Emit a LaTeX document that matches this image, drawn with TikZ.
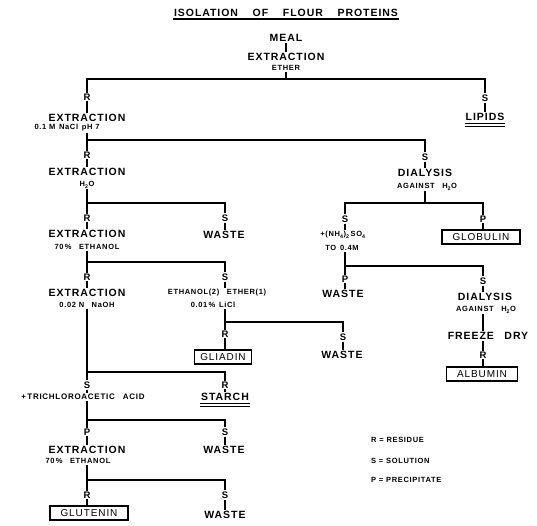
\documentclass[tikz,border=0pt]{standalone}
\usepackage{fontspec}
\setmainfont{Liberation Sans}
\newfontfamily\lettfont[LetterSpace=9]{Liberation Sans}
\tikzset{
  % Step text (extraction, waste ...)
  lbl/.style={inner sep=1pt,font=\lettfont\bfseries\fontsize{10.5}{12}\selectfont},
  % Reagent / condition text
  slbl/.style={inner sep=1pt,font=\lettfont\bfseries\fontsize{7.5}{9}\selectfont},
  % Residue / solution / precipitate letters
  jlbl/.style={inner sep=1pt,font=\lettfont\bfseries\fontsize{9.5}{11}\selectfont},
  % Boxed product
  pbox/.style={rectangle,draw,line width=1.4pt,inner sep=1pt,
    minimum height=14pt,font=\lettfont\fontsize{10}{12}\selectfont},
  % Connectors
  conn/.style={line width=1.4pt},
}
\begin{document}
\begin{tikzpicture}[x=1pt,y=-1pt]
  \useasboundingbox (0,0) rectangle (537,526);

  % Title
  \node[lbl] (title) at (286,13)
    {ISOLATION\hspace{1.4em}OF\hspace{1.4em}FLOUR\hspace{1.4em}PROTEINS};
  \draw[conn] ([yshift=-1pt]title.south west) -- ([yshift=-1pt]title.south east);

  % Meal, ether extraction
  \node[lbl] (meal) at (286,38) {MEAL};
  \node[lbl] (ext0) at (286,57) {EXTRACTION};
  \node[slbl] (ether) at (286,68) {ETHER};
  \coordinate (b0) at (286,79);
  \node[jlbl] (r1) at (87,97) {R};
  \node[jlbl] (s1) at (485,98) {S};
  \node[lbl] (lipids) at (485,117) {LIPIDS};

  % NaCl extraction
  \node[lbl] (ext1) at (87,118) {EXTRACTION};
  \node[slbl] (nacl) at (67,128) {0.1 M\enspace NaCl\enspace pH 7};
  \coordinate (b1) at (87,140);
  \node[jlbl] (r2) at (87,155) {R};
  \node[jlbl] (s2) at (425,157) {S};
  \node[lbl] (dial1) at (425,173) {DIALYSIS};
  \node[slbl] (agn1) at (427,187) {AGAINST\quad H\textsubscript{2}O};
  \coordinate (b5) at (425,203);

  % Water extraction
  \node[lbl] (ext2) at (87,172) {EXTRACTION};
  \node[slbl] (h2oA) at (87,185) {H\textsubscript{2}O};
  \coordinate (b2) at (87,203);
  \node[jlbl] (r3) at (87,218) {R};
  \node[jlbl] (s3) at (225,218) {S};
  \node[lbl] (waste1) at (224,235) {WASTE};

  % Globulin / albumin branch
  \node[jlbl] (s6) at (345,219) {S};
  \node[jlbl] (p1) at (483,219) {P};
  \node[pbox,minimum width=78pt] (globulin) at (481,237) {GLOBULIN};
  \node[slbl] (nh4) at (343,235) {+(NH\textsubscript{4})\textsubscript{2}\,SO\textsubscript{4}};
  \node[slbl] (to04) at (342,248) {TO\enspace 0.4M};
  \coordinate (b6) at (345,266);
  \node[jlbl] (p2) at (345,279) {P};
  \node[jlbl] (s7) at (483,281) {S};
  \node[lbl] (waste3) at (343,294) {WASTE};
  \node[lbl] (dial2) at (485,297) {DIALYSIS};
  \node[slbl] (agn2) at (486,310) {AGAINST\quad H\textsubscript{2}O};
  \node[lbl] (freeze) at (488,336) {FREEZE\quad DRY};
  \node[jlbl] (r6) at (483,355) {R};
  \node[pbox,minimum width=71pt] (albumin) at (482,374) {ALBUMIN};

  % 70% ethanol extraction
  \node[lbl] (ext3) at (87,234) {EXTRACTION};
  \node[slbl] (eth1) at (87,247) {70\,\%\quad ETHANOL};
  \coordinate (b3) at (87,262);
  \node[jlbl] (r4) at (87,277) {R};
  \node[jlbl] (s4) at (225,277) {S};

  % Gliadin branch
  \node[slbl] (ethmix) at (217,293) {ETHANOL(2)\quad ETHER(1)};
  \node[slbl] (licl) at (213,305) {0.01\,\%\enspace LiCl};
  \coordinate (b4) at (225,322);
  \node[jlbl] (r5) at (225,334) {R};
  \node[jlbl] (s5) at (343,337) {S};
  \node[pbox,minimum width=57pt] (gliadin) at (223,357) {GLIADIN};
  \node[lbl] (waste2) at (342,355) {WASTE};

  % NaOH extraction
  \node[lbl] (ext4) at (87,293) {EXTRACTION};
  \node[slbl] (naoh) at (87,305) {0.02 N\quad NaOH};
  \coordinate (b7) at (87,372);
  \node[jlbl] (s8) at (87,385) {S};
  \node[jlbl] (r7) at (225,385) {R};
  \node[slbl,font=\lettfont\bfseries\fontsize{8}{9}\selectfont] (tca) at (83,397)
    {+\,TRICHLOROACETIC\quad ACID};
  \node[lbl] (starch) at (225,397) {STARCH};
  \coordinate (b8) at (87,420);
  \node[jlbl] (p3) at (87,432) {P};
  \node[jlbl] (s9) at (225,432) {S};
  \node[lbl] (ext5) at (87,450) {EXTRACTION};
  \node[slbl] (eth2) at (78,461) {70\,\%\quad ETHANOL};
  \node[lbl] (waste4) at (224,450) {WASTE};
  \coordinate (b9) at (87,480);
  \node[jlbl] (r8) at (87,495) {R};
  \node[jlbl] (s10) at (225,495) {S};
  \node[pbox,minimum width=78pt] (glutenin) at (89,513) {GLUTENIN};
  \node[lbl] (waste5) at (225,515) {WASTE};

  % Legend
  \node[slbl,anchor=west] (legr) at (370,440) {R = RESIDUE};
  \node[slbl,anchor=west] (legs) at (370,461) {S = SOLUTION};
  \node[slbl,anchor=west] (legp) at (370,480) {P = PRECIPITATE};

  % Connectors, top
  \draw[conn] (meal) -- (ext0);
  \draw[conn] (ether.south -| b0) -- (b0);
  \draw[conn] (r1) |- (b0) -| (s1);
  \draw[conn] (s1) -- (lipids);
  \draw[conn] ([yshift=-1.5pt]lipids.south west) -- ([yshift=-1.5pt]lipids.south east);
  \draw[semithick] ([yshift=-4pt]lipids.south west) -- ([yshift=-4pt]lipids.south east);
  \draw[conn] (r1) -- (ext1);
  \draw[conn] (nacl.south -| r2) -- (r2);
  \draw[conn] (b1) -| (s2);
  \draw[conn] (s2) -- (dial1);
  \draw[conn] (agn1.south -| b5) -- (b5);
  \draw[conn] (s6) |- (b5) -| (p1);
  \draw[conn] (p1) -- (p1 |- globulin.north);

  % Connectors, right
  \draw[conn] (s6) -- (nh4.north -| s6);
  \draw[conn] (to04.south -| p2) -- (p2);
  \draw[conn] (b6) -| (s7);
  \draw[conn] (p2) -- (p2 |- waste3.north);
  \draw[conn] (s7) -- (s7 |- dial2.north);
  \draw[conn] (agn2.south -| r6) -- (freeze.north -| r6);
  \draw[conn] (freeze.south -| r6) -- (r6);
  \draw[conn] (r6) -- (r6 |- albumin.north);

  % Connectors, left column
  \draw[conn] (r2) -- (ext2);
  \draw[conn] (h2oA) -- (r3);
  \draw[conn] (b2) -| (s3);
  \draw[conn] (s3) -- (s3 |- waste1.north);
  \draw[conn] (r3) -- (ext3);
  \draw[conn] (eth1) -- (r4);
  \draw[conn] (b3) -| (s4);
  \draw[conn] (r4) -- (ext4);
  \draw[conn] (s4) -- (s4 |- ethmix.north);
  \draw[conn] (licl.south -| r5) -- (r5);
  \draw[conn] (b4) -| (s5);
  \draw[conn] (r5) -- (r5 |- gliadin.north);
  \draw[conn] (s5) -- (s5 |- waste2.north);
  \draw[conn] (naoh) -- (s8);
  \draw[conn] (b7) -| (r7);
  \draw[conn] (s8) -- (tca.north -| s8);
  \draw[conn] (r7) -- (starch);
  \draw[conn] ([yshift=-1.5pt]starch.south west) -- ([yshift=-1.5pt]starch.south east);
  \draw[semithick] ([yshift=-4pt]starch.south west) -- ([yshift=-4pt]starch.south east);
  \draw[conn] (tca.south -| p3) -- (p3);
  \draw[conn] (b8) -| (s9);
  \draw[conn] (s9) -- (s9 |- waste4.north);
  \draw[conn] (p3) -- (ext5);
  \draw[conn] (eth2.south -| r8) -- (r8);
  \draw[conn] (b9) -| (s10);
  \draw[conn] (r8) -- (r8 |- glutenin.north);
  \draw[conn] (s10) -- (waste5);
\end{tikzpicture}
\end{document}
